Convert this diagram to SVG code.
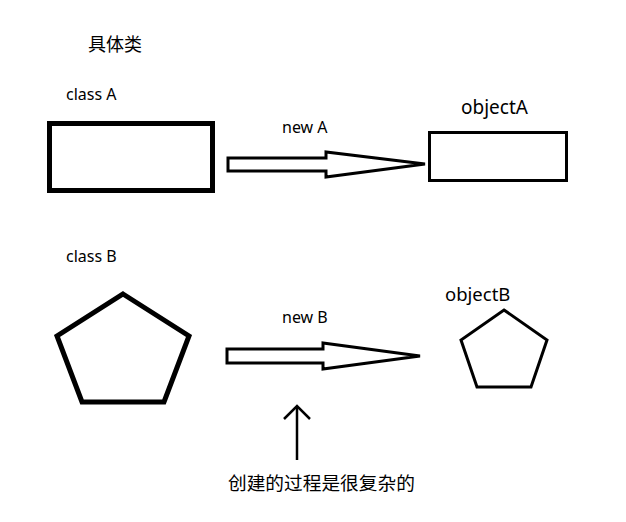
<svg xmlns="http://www.w3.org/2000/svg" width="626" height="522" viewBox="0 0 626 522">
<style>
.t{font-family:"Noto Sans","Noto Sans CJK SC",sans-serif;fill:#000}
.cjk{font-family:"Noto Sans CJK SC","Noto Sans",sans-serif;fill:#000}
.thick{fill:#fff;stroke:#000;stroke-width:5;stroke-linejoin:miter}
.thin{fill:#fff;stroke:#000;stroke-width:3}
.arr{fill:#fff;stroke:#000;stroke-width:3;stroke-linejoin:miter}
</style>
<rect width="626" height="522" fill="#fff"/>
<text class="cjk" x="88" y="51" font-size="18">具体类</text>
<g id="classA">
<text class="t" x="66" y="100" font-size="16">class A</text>
<rect class="thick" x="49.5" y="123.5" width="163" height="67"/>
</g>
<g id="objectA">
<text class="t" x="461" y="114" font-size="19">objectA</text>
<rect class="thin" x="429.5" y="132.5" width="137" height="48"/>
</g>
<g id="classB">
<text class="t" x="66" y="262" font-size="16">class B</text>
<polygon class="thick" points="123,294 189,336 164,402 82,402 57,336"/>
</g>
<g id="objectB">
<text class="t" x="445" y="301" font-size="18.5">objectB</text>
<polygon class="thin" points="504,310 547,340 531,387 477,387 461,340"/>
</g>
<g id="connectors">
<polygon class="arr" points="228,158 326,158 326,152 425,164 326,177 326,171 228,171"/>
<text class="t" x="282" y="133" font-size="16">new A</text>
<polygon class="arr" points="227,349 323,349 323,343 420,356 323,369 323,363 227,363"/>
<text class="t" x="282" y="323" font-size="16">new B</text>
<g fill="none" stroke="#000" stroke-width="2.5">
<line x1="297" y1="407" x2="297" y2="460"/>
<polyline points="284,419 297,406 310,419"/>
</g>
</g>
<text class="cjk" x="228" y="490" font-size="18.7">创建的过程是很复杂的</text>
</svg>
